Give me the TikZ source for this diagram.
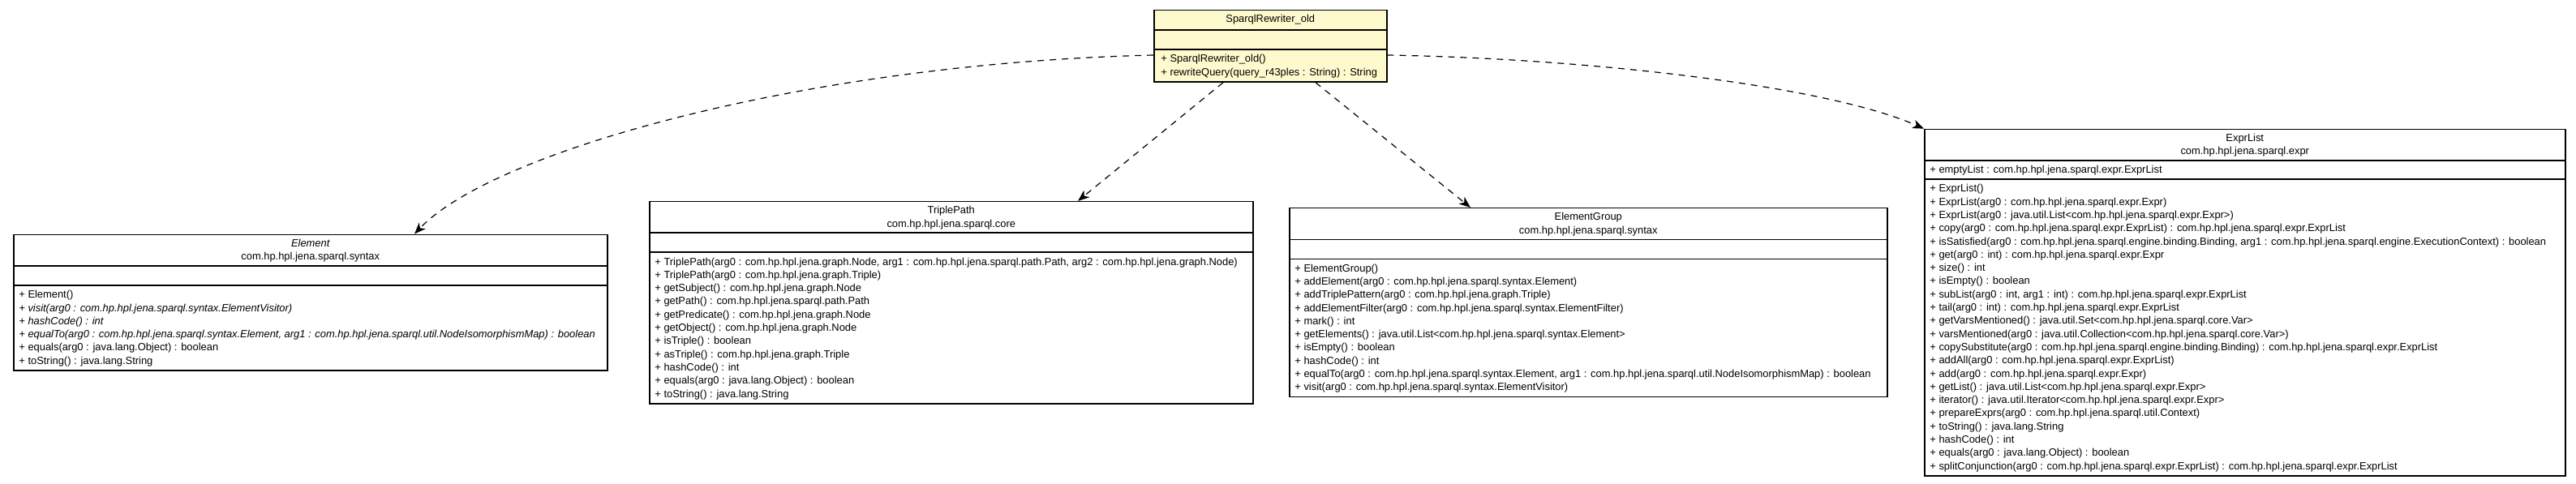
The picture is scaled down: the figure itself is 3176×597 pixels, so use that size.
\documentclass[tikz,border=0pt]{standalone}
\usepackage{fontspec}
\setmainfont{Liberation Sans}
\usetikzlibrary{arrows.meta,calc}
\definecolor{lemon}{RGB}{255,250,205}
\newcommand{\fl}{\rule{0pt}{7.75pt}}
\tikzset{
  cls/.style={draw=black, line width=0.75pt, fill=white, inner sep=0pt, anchor=north west},
  txt/.style={inner sep=0pt, anchor=north west, align=left, font=\fontsize{6.45}{8.15}\selectfont},
  ttl/.style={inner sep=0pt, anchor=north, align=center, font=\fontsize{6.45}{8.15}\selectfont},
  dep/.style={draw=black, line width=0.6pt, dash pattern=on 4pt off 3.5pt, -{Stealth[length=7pt,width=5.5pt,inset=2pt]}},
  divider/.style={line width=0.75pt},
}
\begin{document}
\begin{tikzpicture}[x=0.5pt,y=-0.5pt]
\useasboundingbox (0,0) rectangle (3176,597);

% SparqlRewriter_old
\node[cls, fill=lemon, minimum width=287*0.5pt, minimum height=88.3*0.5pt] (sr) at (1422,12) {};
\draw[divider] ($(sr.north west)+(0,25)$) -- ($(sr.north east)+(0,25)$);
\draw[divider] ($(sr.north west)+(0,49)$) -- ($(sr.north east)+(0,49)$);
\node[ttl] (srT) at (sr.north) {\fl SparqlRewriter\_old};
\node[txt] (srM) at ($(sr.north west)+(9,49)$) {\fl + SparqlRewriter\_old()\\+ rewriteQuery(query\_r43ples : String) : String};

% Element
\node[cls, minimum width=732*0.5pt, minimum height=167.8*0.5pt] (elem) at (16,288.6) {};
\draw[divider] ($(elem.north west)+(0,39.3)$) -- ($(elem.north east)+(0,39.3)$);
\draw[divider] ($(elem.north west)+(0,63.3)$) -- ($(elem.north east)+(0,63.3)$);
\node[ttl] (elemT) at (elem.north) {\fl\itshape Element\\com.hp.hpl.jena.sparql.syntax};
\node[txt] (elemM) at ($(elem.north west)+(7,63.3)$) {\fl + Element()\\
{\itshape + visit(arg0 : com.hp.hpl.jena.sparql.syntax.ElementVisitor)}\\
{\itshape + hashCode() : int}\\
{\itshape + equalTo(arg0 : com.hp.hpl.jena.sparql.syntax.Element, arg1 : com.hp.hpl.jena.sparql.util.NodeIsomorphismMap) : boolean}\\
+ equals(arg0 : java.lang.Object) : boolean\\
+ toString() : java.lang.String};

% TriplePath
\node[cls, minimum width=744*0.5pt, minimum height=249.3*0.5pt] (tp) at (800,247.9) {};
\draw[divider] ($(tp.north west)+(0,39.3)$) -- ($(tp.north east)+(0,39.3)$);
\draw[divider] ($(tp.north west)+(0,63.3)$) -- ($(tp.north east)+(0,63.3)$);
\node[ttl] (tpT) at (tp.north) {\fl TriplePath\\com.hp.hpl.jena.sparql.core};
\node[txt] (tpM) at ($(tp.north west)+(7,63.3)$) {\fl + TriplePath(arg0 : com.hp.hpl.jena.graph.Node, arg1 : com.hp.hpl.jena.sparql.path.Path, arg2 : com.hp.hpl.jena.graph.Node)\\
+ TriplePath(arg0 : com.hp.hpl.jena.graph.Triple)\\
+ getSubject() : com.hp.hpl.jena.graph.Node\\
+ getPath() : com.hp.hpl.jena.sparql.path.Path\\
+ getPredicate() : com.hp.hpl.jena.graph.Node\\
+ getObject() : com.hp.hpl.jena.graph.Node\\
+ isTriple() : boolean\\
+ asTriple() : com.hp.hpl.jena.graph.Triple\\
+ hashCode() : int\\
+ equals(arg0 : java.lang.Object) : boolean\\
+ toString() : java.lang.String};

% ElementGroup
\node[cls, minimum width=737*0.5pt, minimum height=233*0.5pt] (eg) at (1589,256) {};
\draw[divider] ($(eg.north west)+(0,39.3)$) -- ($(eg.north east)+(0,39.3)$);
\draw[divider] ($(eg.north west)+(0,63.3)$) -- ($(eg.north east)+(0,63.3)$);
\node[ttl] (egT) at (eg.north) {\fl ElementGroup\\com.hp.hpl.jena.sparql.syntax};
\node[txt] (egM) at ($(eg.north west)+(7,63.3)$) {\fl + ElementGroup()\\
+ addElement(arg0 : com.hp.hpl.jena.sparql.syntax.Element)\\
+ addTriplePattern(arg0 : com.hp.hpl.jena.graph.Triple)\\
+ addElementFilter(arg0 : com.hp.hpl.jena.sparql.syntax.ElementFilter)\\
+ mark() : int\\
+ getElements() : java.util.List<com.hp.hpl.jena.sparql.syntax.Element>\\
+ isEmpty() : boolean\\
+ hashCode() : int\\
+ equalTo(arg0 : com.hp.hpl.jena.sparql.syntax.Element, arg1 : com.hp.hpl.jena.sparql.util.NodeIsomorphismMap) : boolean\\
+ visit(arg0 : com.hp.hpl.jena.sparql.syntax.ElementVisitor)};

% ExprList
\node[cls, minimum width=790*0.5pt, minimum height=427.6*0.5pt] (el) at (2372,158.7) {};
\draw[divider] ($(el.north west)+(0,39.3)$) -- ($(el.north east)+(0,39.3)$);
\draw[divider] ($(el.north west)+(0,62.3)$) -- ($(el.north east)+(0,62.3)$);
\node[ttl] (elT) at (el.north) {\fl ExprList\\com.hp.hpl.jena.sparql.expr};
\node[txt] (elA) at ($(el.north west)+(7,39.3)$) {\fl + emptyList : com.hp.hpl.jena.sparql.expr.ExprList};
\node[txt] (elM) at ($(el.north west)+(7,62.3)$) {\fl + ExprList()\\
+ ExprList(arg0 : com.hp.hpl.jena.sparql.expr.Expr)\\
+ ExprList(arg0 : java.util.List<com.hp.hpl.jena.sparql.expr.Expr>)\\
+ copy(arg0 : com.hp.hpl.jena.sparql.expr.ExprList) : com.hp.hpl.jena.sparql.expr.ExprList\\
+ isSatisfied(arg0 : com.hp.hpl.jena.sparql.engine.binding.Binding, arg1 : com.hp.hpl.jena.sparql.engine.ExecutionContext) : boolean\\
+ get(arg0 : int) : com.hp.hpl.jena.sparql.expr.Expr\\
+ size() : int\\
+ isEmpty() : boolean\\
+ subList(arg0 : int, arg1 : int) : com.hp.hpl.jena.sparql.expr.ExprList\\
+ tail(arg0 : int) : com.hp.hpl.jena.sparql.expr.ExprList\\
+ getVarsMentioned() : java.util.Set<com.hp.hpl.jena.sparql.core.Var>\\
+ varsMentioned(arg0 : java.util.Collection<com.hp.hpl.jena.sparql.core.Var>)\\
+ copySubstitute(arg0 : com.hp.hpl.jena.sparql.engine.binding.Binding) : com.hp.hpl.jena.sparql.expr.ExprList\\
+ addAll(arg0 : com.hp.hpl.jena.sparql.expr.ExprList)\\
+ add(arg0 : com.hp.hpl.jena.sparql.expr.Expr)\\
+ getList() : java.util.List<com.hp.hpl.jena.sparql.expr.Expr>\\
+ iterator() : java.util.Iterator<com.hp.hpl.jena.sparql.expr.Expr>\\
+ prepareExprs(arg0 : com.hp.hpl.jena.sparql.util.Context)\\
+ toString() : java.lang.String\\
+ hashCode() : int\\
+ equals(arg0 : java.lang.Object) : boolean\\
+ splitConjunction(arg0 : com.hp.hpl.jena.sparql.expr.ExprList) : com.hp.hpl.jena.sparql.expr.ExprList};

% dependencies
\draw[dep] ($(sr.north west)+(0,56)$) .. controls ($(sr.north west)+(-422,66)$) and ($(elem.north west)+(594,-104)$) .. ($(elem.north west)+(495,0)$);
\draw[dep] ($(sr.south west)+(86,0)$) -- ($(tp.north west)+(529,0)$);
\draw[dep] ($(sr.south west)+(200,0)$) -- ($(eg.north west)+(224,0)$);
\draw[dep] ($(sr.north east)+(0,56)$) .. controls ($(sr.north east)+(241,60)$) and ($(el.north west)+(-122,-54)$) .. (el.north west);
\end{tikzpicture}
\end{document}
